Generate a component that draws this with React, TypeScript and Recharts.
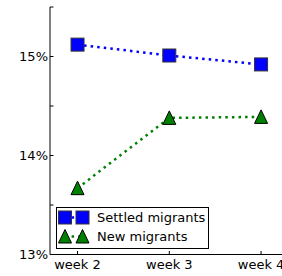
import { LineChart, Line, XAxis, YAxis, Legend } from 'recharts';

const weeks = [2, 3, 4];
const settledValues = [15.12, 15.01, 14.92];
const newValues = [13.67, 14.38, 14.39];
const seriesNames = ['Settled migrants', 'New migrants'];
const yTicks = [13, 13.5, 14, 14.5, 15, 15.5];

const data = weeks.map((w, i) => ({ week: w, settled: settledValues[i], fresh: newValues[i] }));

const FONT = '"DejaVu Sans", sans-serif';
const BLUE = '#0000ff';
const GREEN = '#008000';

const SquareDot = (p: any) => {
  const { cx, cy } = p;
  if (cx == null || cy == null) return null;
  return <rect key={`s-${cx}`} x={cx - 6.5} y={cy - 6.5} width={13} height={13} fill={BLUE} stroke="#333" strokeWidth={1} />;
};

const TriangleDot = (p: any) => {
  const { cx, cy } = p;
  if (cx == null || cy == null) return null;
  return (
    <polygon
      key={`t-${cx}`}
      points={`${cx},${cy - 7} ${cx - 6.5},${cy + 6.5} ${cx + 6.5},${cy + 6.5}`}
      fill={GREEN}
      stroke="#000"
      strokeWidth={1}
    />
  );
};

// matplotlib-style ticks pointing into the plot
const BottomTick = (p: any) => {
  const { x, y, payload } = p;
  return (
    <g>
      <line x1={x} y1={y} x2={x} y2={y - 3.5} stroke="#000" />
      <text x={x} y={y + 14} textAnchor="middle" fontFamily={FONT} fontSize={13} fill="#000">
        {`week ${payload.value}`}
      </text>
    </g>
  );
};

const TopTick = (p: any) => {
  const { x, y } = p;
  return <line x1={x} y1={y} x2={x} y2={y + 3.5} stroke="#000" />;
};

const LeftTick = (p: any) => {
  const { x, y, payload } = p;
  const major = Number.isInteger(payload.value);
  return (
    <g>
      <line x1={x} y1={y} x2={x + 3.5} y2={y} stroke="#000" />
      {major && payload.value < 15.5 && (
        <text x={x - 2} y={y + 4.5} textAnchor="end" fontFamily={FONT} fontSize={13} fill="#000">
          {`${payload.value}%`}
        </text>
      )}
    </g>
  );
};

const LegendBox = () => (
  <svg width={154} height={42} style={{ display: 'block' }}>
    <rect x={0.5} y={0.5} width={152} height={41} fill="#fff" stroke="#000" strokeWidth={1} />
    <line x1={9} y1={10.5} x2={26.5} y2={10.5} stroke={BLUE} strokeWidth={2.5} strokeDasharray="2.5 4.1" />
    <rect x={2.5} y={4} width={13} height={13} fill={BLUE} stroke="#333" />
    <rect x={20} y={4} width={13} height={13} fill={BLUE} stroke="#333" />
    <text x={41} y={15} fontFamily={FONT} fontSize={13} fill="#000">{seriesNames[0]}</text>
    <line x1={9} y1={29.5} x2={26.5} y2={29.5} stroke={GREEN} strokeWidth={2.5} strokeDasharray="2.5 4.1" />
    <polygon points="9,22.5 2.5,36 15.5,36" fill={GREEN} stroke="#000" />
    <polygon points="26.5,22.5 20,36 33,36" fill={GREEN} stroke="#000" />
    <text x={41} y={34} fontFamily={FONT} fontSize={13} fill="#000">{seriesNames[1]}</text>
  </svg>
);

export default function App() {
  return (
    <div style={{ position: 'absolute', left: 0, top: 0, width: 282, height: 276, overflow: 'hidden', background: '#fff' }}>
      <LineChart width={300} height={276} data={data} margin={{ top: 7, right: 11.4, bottom: 0, left: 0 }}>
        <XAxis
          xAxisId="bottom"
          dataKey="week"
          type="number"
          domain={[1.7, 4.3]}
          ticks={weeks}
          height={21.5}
          stroke="#000"
          tickSize={0}
          tickMargin={0}
          tickLine={false}
          tick={<BottomTick />}
          allowDataOverflow
        />
        <XAxis
          xAxisId="top"
          orientation="top"
          dataKey="week"
          type="number"
          domain={[1.7, 4.3]}
          ticks={weeks}
          height={0}
          stroke="#000"
          tickSize={0}
          tickMargin={0}
          tickLine={false}
          tick={<TopTick />}
          allowDataOverflow
        />
        <YAxis
          type="number"
          domain={[13, 15.5]}
          ticks={yTicks}
          width={50}
          stroke="#000"
          tickSize={0}
          tickMargin={0}
          tickLine={false}
          tick={<LeftTick />}
          interval={0}
          allowDataOverflow
        />
        <Legend
          layout="vertical"
          align="center"
          verticalAlign="middle"
          content={<LegendBox />}
          wrapperStyle={{ left: 56, top: 207, width: 154, height: 42 }}
        />
        <Line
          xAxisId="bottom"
          dataKey="settled"
          name={seriesNames[0]}
          stroke={BLUE}
          strokeWidth={2.5}
          strokeDasharray="2.5 4.1"
          dot={SquareDot}
          activeDot={false}
          isAnimationActive={false}
        />
        <Line
          xAxisId="bottom"
          dataKey="fresh"
          name={seriesNames[1]}
          stroke={GREEN}
          strokeWidth={2.5}
          strokeDasharray="2.5 4.1"
          dot={TriangleDot}
          activeDot={false}
          isAnimationActive={false}
        />
      </LineChart>
    </div>
  );
}
